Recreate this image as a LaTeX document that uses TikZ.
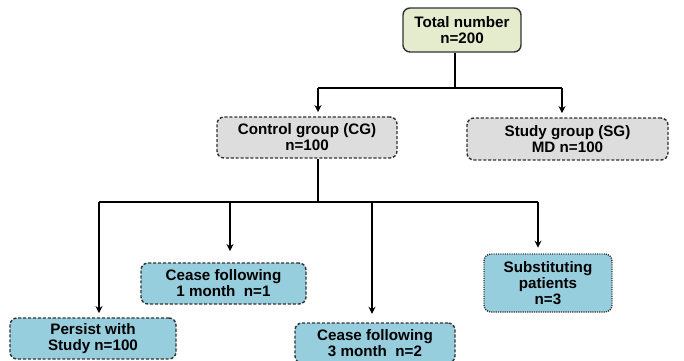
\documentclass[tikz,border=0pt]{standalone}
\usepackage{fontspec}
\setmainfont{Liberation Sans}
\usepackage{xcolor}
\usetikzlibrary{arrows.meta}
\definecolor{boxgreen}{HTML}{E4ECCD}
\definecolor{boxgray}{HTML}{DDDDDD}
\definecolor{boxblue}{HTML}{96CEDE}
\definecolor{edgegray}{HTML}{333333}
\begin{document}
\begin{tikzpicture}[x=0.025cm,y=-0.025cm,
  font=\fontsize{10.8}{11.4}\selectfont\bfseries,
  box/.style={draw=edgegray,line width=1pt,rounded corners=5pt,align=center,inner sep=0pt},
  dashbox/.style={box,dash pattern=on 2.2pt off 1.3pt},
  dotbox/.style={box,dash pattern=on 0.8pt off 0.8pt},
  link/.style={line width=1.1pt,black},
  arr/.style={link,-{Stealth[length=5pt,width=5pt]}}]
\useasboundingbox (0,0) rectangle (684,361);
% top
\node[box,fill=boxgreen,minimum width=118*0.025cm,minimum height=44*0.025cm] (total) at (462,30) {Total number\\n=200};
% groups
\node[dashbox,fill=boxgray,minimum width=180*0.025cm,minimum height=41*0.025cm] (cg) at (307,137.5) {Control group (CG)\\n=100};
\node[dashbox,fill=boxgray,minimum width=201*0.025cm,minimum height=42*0.025cm] (sg) at (567.5,139) {Study group (SG)\\MD n=100};
% outcomes
\node[dashbox,fill=boxblue,minimum width=166*0.025cm,minimum height=41*0.025cm] (persist) at (93,338.5) {Persist with\\Study n=100};
\node[dashbox,fill=boxblue,minimum width=165*0.025cm,minimum height=41*0.025cm] (cease1) at (223.5,283.5) {Cease following\\1 month~~n=1};
\node[dashbox,fill=boxblue,minimum width=160*0.025cm,minimum height=40*0.025cm] (cease3) at (375,343) {Cease following\\3 month~~n=2};
\node[dotbox,fill=boxblue,minimum width=128*0.025cm,minimum height=58*0.025cm] (subst) at (548,283) {Substituting\\patients\\n=3};
% bus points
\coordinate (t1) at (455,88);
\coordinate (tl) at (318,88);
\coordinate (tr) at (562,88);
\coordinate (c1) at (318,202);
\coordinate (b1) at (99,202);
\coordinate (b2) at (230,202);
\coordinate (b3) at (372,202);
\coordinate (b4) at (538,202);
% connectors
\draw[link] (total.south -| t1) -- (t1);
\draw[link] (tl) -- (tr);
\draw[arr] (tl) -- ([yshift=3pt]cg.north -| tl);
\draw[arr] (tr) -- ([yshift=3pt]sg.north -| tr);
\draw[link] (cg.south -| c1) -- (c1);
\draw[link] (b1) -- (b4);
\draw[arr] (b1) -- ([yshift=3pt]persist.north -| b1);
\draw[arr] (b2) -- ([yshift=8pt]cease1.north -| b2);
\draw[arr] (b3) -- ([yshift=6pt]cease3.north -| b3);
\draw[arr] (b4) -- ([yshift=4pt]subst.north -| b4);
\end{tikzpicture}
\end{document}
